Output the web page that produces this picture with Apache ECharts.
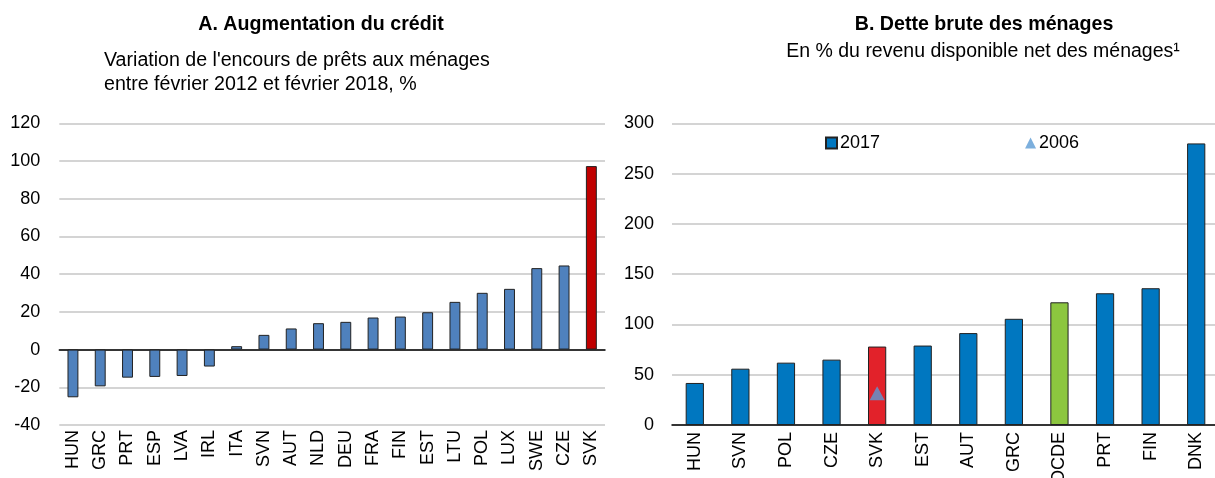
<!DOCTYPE html>
<html>
<head>
<meta charset="utf-8">
<script src="https://cdn.jsdelivr.net/npm/echarts@6/dist/echarts.min.js"></script>
<style>
  html, body { margin: 0; padding: 0; background: #fff; }
  #chart { width: 1215px; height: 478px; }
</style>
</head>
<body>
<div id="chart"></div>
<script>
// Panel A: credit growth, Feb 2012 - Feb 2018, %
const creditCountries = ["HUN", "GRC", "PRT", "ESP", "LVA", "IRL", "ITA", "SVN", "AUT", "NLD",
  "DEU", "FRA", "FIN", "EST", "LTU", "POL", "LUX", "SWE", "CZE", "SVK"];
const creditGrowth = [-25.3, -19.5, -14.9, -14.5, -14, -9, 1.8, 7.8, 11.2, 14,
  14.7, 17, 17.5, 19.8, 25.3, 30.1, 32.2, 43.2, 44.6, 97.3];

// Panel B: household gross debt, % of net disposable income
const debtCountries = ["HUN", "SVN", "POL", "CZE", "SVK", "EST", "AUT", "GRC", "OCDE", "PRT", "FIN", "DNK"];
const debt2017 = [41.8, 56, 62, 65, 78, 79, 91.4, 105.6, 122, 131, 136, 280];
const debt2006 = ["-", "-", "-", "-", 31.5, "-", "-", "-", "-", "-", "-", "-"];

const FONT = "'Liberation Sans', Arial, sans-serif";

const chart = echarts.init(document.getElementById("chart"));

const leftData = creditGrowth.map((v, i) => ({
  value: v,
  itemStyle: creditCountries[i] === "SVK" ? { color: "#C00000" } : undefined,
}));

const rightColors = { SVK: "#E2222A", OCDE: "#8CC63F" };
const rightData = debt2017.map((v, i) => ({
  value: v,
  itemStyle: rightColors[debtCountries[i]] ? { color: rightColors[debtCountries[i]] } : undefined,
}));

function label(text, x, y, size, bold, align, sx) {
  return {
    type: "text", x: x, y: y, scaleX: sx,
    style: { text: text, font: (bold ? "bold " : "") + size + "px " + FONT, fill: "#000",
      textAlign: align, textVerticalAlign: "middle" },
  };
}

const option = {
  animation: false,
  textStyle: { fontFamily: FONT },
  graphic: [
    label("A. Augmentation du crédit", 321, 24, 21, true, "center", 0.935),
    label("Variation de l'encours de prêts aux ménages", 104, 60, 20, false, "left", 0.98),
    label("entre février 2012 et février 2018, %", 104, 84, 20, false, "left", 0.98),
    label("B. Dette brute des ménages", 984, 24, 21, true, "center", 0.935),
    label("En % du revenu disponible net des ménages¹", 983, 51.5, 20, false, "center", 0.975),
  ],
  legend: {
    data: [{ name: "2017", icon: "rect" }, { name: "2006", icon: "triangle" }],
    left: 825,
    top: 134,
    padding: 0,
    itemWidth: 11,
    itemHeight: 11,
    itemGap: 145,
    textStyle: { fontSize: 18, color: "#000", fontFamily: FONT, padding: [0, 0, 0, -2] },
  },
  grid: [
    { left: 59.3, width: 545.7, top: 123.3, height: 301.7, outerBoundsMode: "none" },
    { left: 672, width: 547, top: 123.3, height: 301.7, outerBoundsMode: "none" },
  ],
  xAxis: [
    {
      // zero line with ticks (panel A)
      type: "category", gridIndex: 0, data: creditCountries, position: "bottom",
      axisLine: { onZero: true, lineStyle: { color: "#000", width: 1.5 } },
      axisTick: { inside: true, length: 7, lineStyle: { color: "#000", width: 1.5 } },
      axisLabel: { show: false },
    },
    {
      // labels at the bottom (panel A)
      type: "category", gridIndex: 0, data: creditCountries, position: "bottom",
      axisLine: { show: false, onZero: false },
      axisTick: { show: false },
      axisLabel: { rotate: 90, margin: 5, fontSize: 18, color: "#000", fontFamily: FONT },
    },
    {
      type: "category", gridIndex: 1, data: debtCountries, position: "bottom",
      axisLine: { lineStyle: { color: "#000", width: 1.5 } },
      axisTick: { inside: true, length: 6, lineStyle: { color: "#000", width: 1.5 } },
      axisLabel: { rotate: 90, margin: 7, fontSize: 18, color: "#000", fontFamily: FONT },
    },
  ],
  yAxis: [
    {
      type: "value", gridIndex: 0, min: -40, max: 120, interval: 20,
      axisLine: { show: false }, axisTick: { show: false },
      axisLabel: { margin: 19, fontSize: 18, color: "#000", fontFamily: FONT },
      splitLine: { lineStyle: { color: "#C6C6C6", width: 1.5 } },
    },
    {
      type: "value", gridIndex: 1, min: 0, max: 300, interval: 50,
      axisLine: { show: false }, axisTick: { show: false },
      axisLabel: { margin: 18, fontSize: 18, color: "#000", fontFamily: FONT },
      splitLine: { lineStyle: { color: "#C6C6C6", width: 1.5 } },
    },
  ],
  series: [
    {
      name: "Crédit", type: "bar", xAxisIndex: 0, yAxisIndex: 0,
      barWidth: "40%", data: leftData,
      itemStyle: { color: "#4F81BD", borderColor: "#222", borderWidth: 1 },
    },
    {
      name: "2017", type: "bar", xAxisIndex: 2, yAxisIndex: 1,
      barWidth: "40%", data: rightData,
      itemStyle: { color: "#0077C0", borderColor: "#222", borderWidth: 1 },
    },
    {
      name: "2006", type: "scatter", xAxisIndex: 2, yAxisIndex: 1,
      symbol: "triangle", symbolSize: [15, 14], data: debt2006,
      itemStyle: { color: "#5B9BD5" },
    },
  ],
};

chart.setOption(option);
</script>
</body>
</html>
